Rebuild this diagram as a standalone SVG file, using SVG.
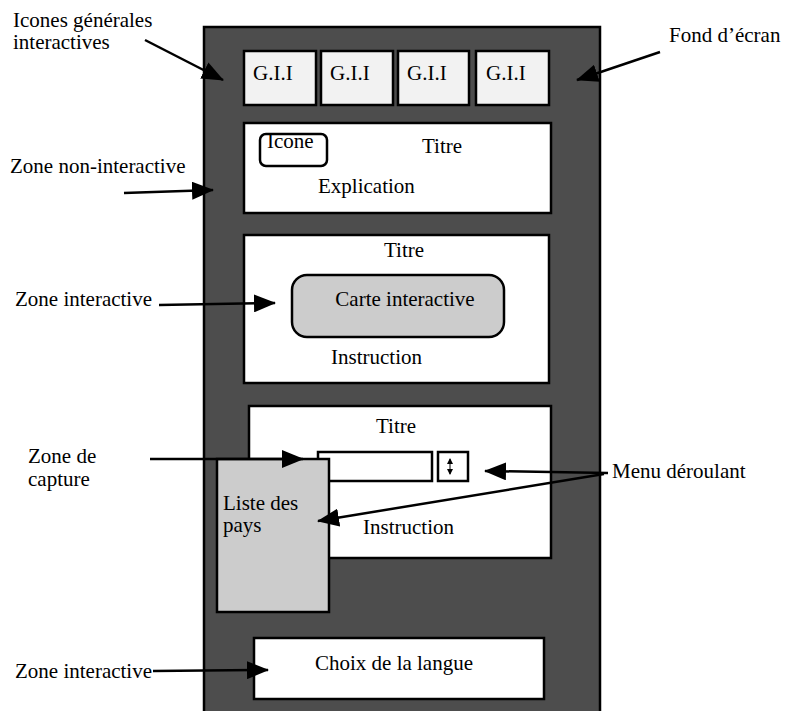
<svg xmlns="http://www.w3.org/2000/svg" width="787" height="711" viewBox="0 0 787 711">
<style>
text{font-family:"Liberation Serif","Times New Roman",serif;font-size:21px;fill:#000}
.box{fill:#fff;stroke:#000;stroke-width:2.5}
.gii{fill:#f2f2f2;stroke:#000;stroke-width:2.5}
.gray{fill:#cccccc;stroke:#000;stroke-width:2.5}
.conn{stroke:#000;stroke-width:2.5;fill:none;marker-end:url(#ah)}
.mid{text-anchor:middle}
</style>
<defs>
<marker id="ah" markerUnits="userSpaceOnUse" markerWidth="22" markerHeight="18" refX="21" refY="9" orient="auto">
<path d="M0,0 L22,9 L0,18 Z" fill="#000"/>
</marker>
<marker id="sa" markerUnits="userSpaceOnUse" markerWidth="6" markerHeight="6" refX="5" refY="3" orient="auto-start-reverse">
<path d="M0,0 L6,3 L0,6 Z" fill="#000"/>
</marker>
</defs>
<g id="fond">
<rect x="204" y="27" width="396" height="700" fill="#4d4d4d" stroke="#000" stroke-width="2.5"/>
</g>
<g id="gii1"><rect class="gii" x="244" y="51" width="72" height="54"/><text x="253" y="80">G.I.I</text></g>
<g id="gii2"><rect class="gii" x="321" y="51" width="72" height="54"/><text x="330" y="80">G.I.I</text></g>
<g id="gii3"><rect class="gii" x="398" y="51" width="71" height="54"/><text x="407" y="80">G.I.I</text></g>
<g id="gii4"><rect class="gii" x="476" y="51" width="73" height="54"/><text x="486" y="80">G.I.I</text></g>
<g id="zone-non-interactive">
<rect class="box" x="244" y="123" width="307" height="90"/>
<rect x="260" y="134" width="67" height="32" rx="6" fill="#fff" stroke="#000" stroke-width="2.5"/>
<text x="267" y="148">Icone</text>
<text x="422" y="153">Titre</text>
<text x="318" y="193">Explication</text>
</g>
<g id="zone-interactive">
<rect class="box" x="244" y="235" width="305" height="148"/>
<text class="mid" x="404" y="257">Titre</text>
<rect class="gray" x="292" y="275" width="212" height="62" rx="15"/>
<text class="mid" x="405" y="306">Carte interactive</text>
<text x="331" y="364">Instruction</text>
</g>
<g id="zone-capture">
<rect class="box" x="249" y="406" width="302" height="152"/>
<text class="mid" x="396" y="433">Titre</text>
<rect x="318" y="452" width="114" height="29" fill="#fff" stroke="#000" stroke-width="2.5"/>
<rect x="438" y="452" width="30" height="29" fill="#fff" stroke="#000" stroke-width="2.5"/>
<line x1="450" y1="459" x2="450" y2="474" stroke="#000" stroke-width="1" marker-end="url(#sa)" marker-start="url(#sa)"/>
<text x="363" y="534">Instruction</text>
</g>
<g id="liste-pays">
<rect class="gray" x="217" y="459" width="112" height="153"/>
<text x="223" y="510">Liste des</text>
<text x="223" y="532">pays</text>
</g>
<g id="choix-langue">
<rect class="box" x="254" y="638" width="290" height="61"/>
<text class="mid" x="394" y="670">Choix de la langue</text>
</g>
<g id="labels">
<text x="13" y="27">Icones générales</text>
<text x="13" y="49">interactives</text>
<text x="669" y="42">Fond d’écran</text>
<text x="10" y="173">Zone non-interactive</text>
<text x="15" y="306">Zone interactive</text>
<text x="28" y="463">Zone de</text>
<text x="28" y="486">capture</text>
<text x="612" y="478">Menu déroulant</text>
<text x="15" y="678">Zone interactive</text>
</g>
<g id="connectors">
<line class="conn" x1="145" y1="40" x2="223" y2="80"/>
<line class="conn" x1="660" y1="52" x2="577" y2="80"/>
<line class="conn" x1="124" y1="193" x2="213" y2="190"/>
<line class="conn" x1="159" y1="305" x2="275" y2="303"/>
<line class="conn" x1="150" y1="459" x2="303" y2="459"/>
<line class="conn" x1="608" y1="473" x2="485" y2="471"/>
<line class="conn" x1="604" y1="474" x2="318" y2="521"/>
<line class="conn" x1="153" y1="671" x2="268" y2="670"/>
</g>
</svg>
